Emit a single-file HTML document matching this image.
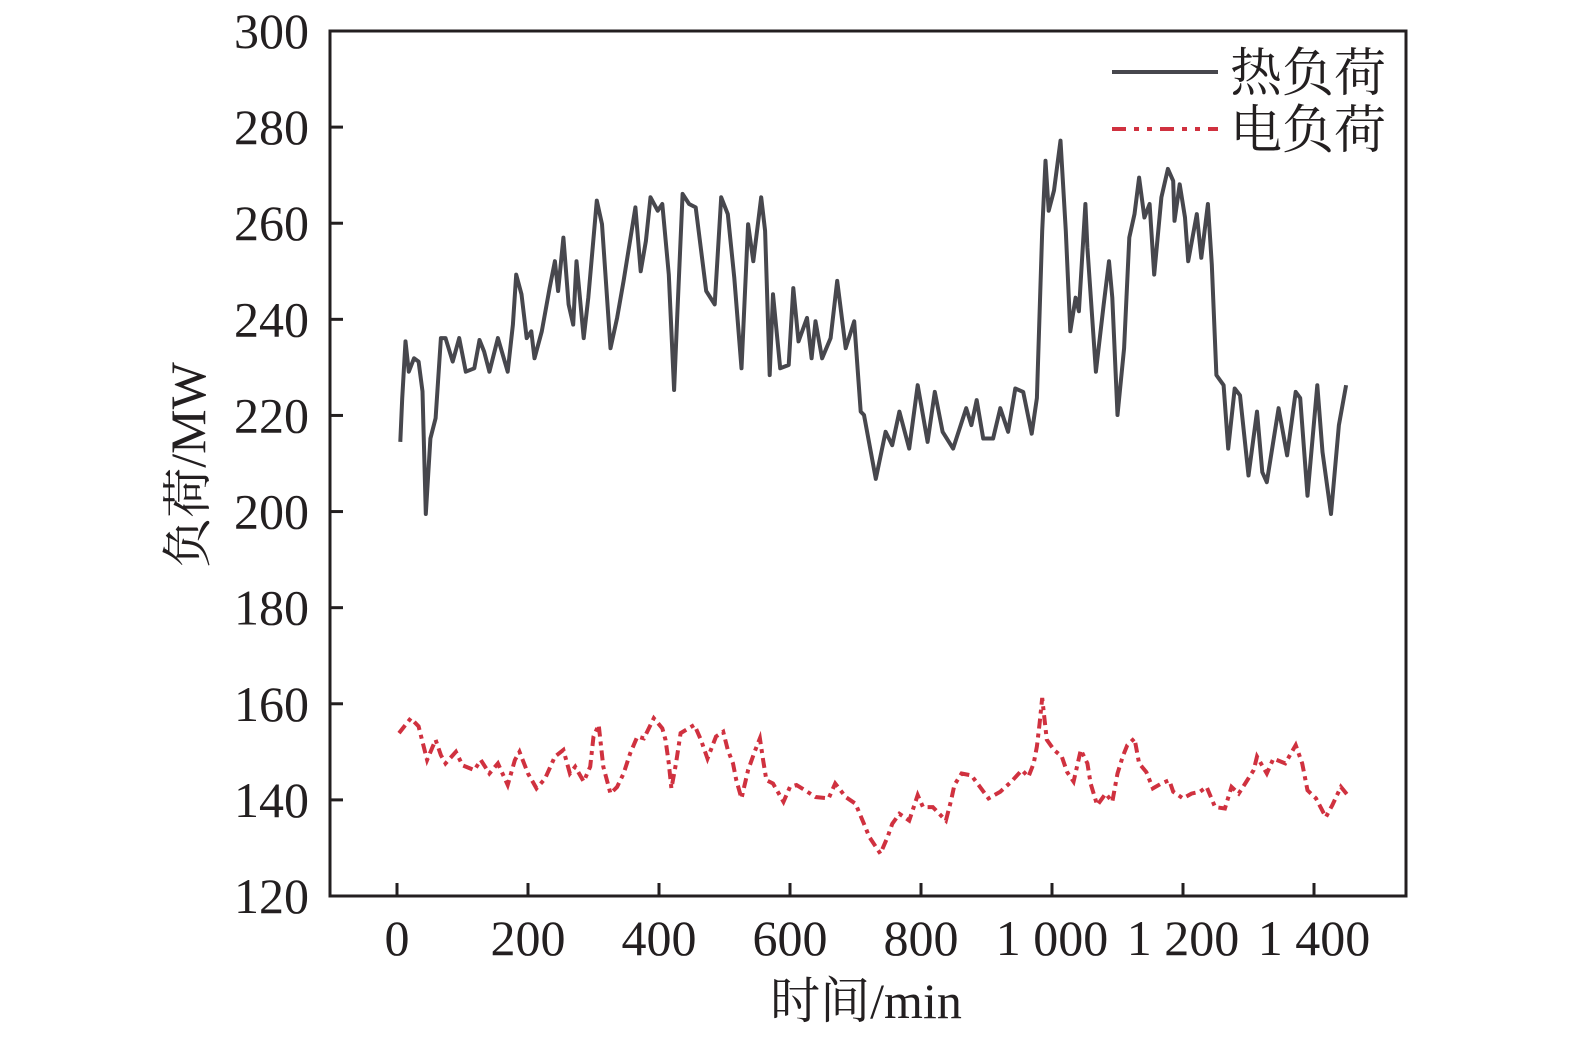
<!DOCTYPE html>
<html><head><meta charset="utf-8"><style>
body{margin:0;background:#fff}
svg text{font-family:"Liberation Serif","Noto Serif CJK SC",serif;fill:#231f20}
</style></head><body>
<svg width="1575" height="1043" viewBox="0 0 1575 1043" xmlns="http://www.w3.org/2000/svg">
<g id="plot"></g>
</svg>
<script>
const heatT=[5,8,13,18,26,33,39,44,51,59,67,74,85,95,105,118,126,133,141,154,169,177,182,190,198,205,210,221,233,241,246,254,262,269,274,285,292,305,313,326,336,346,364,372,380,387,398,405,415,423,428,436,446,456,472,485,495,505,515,526,536,544,556,562,569,574,585,598,605,613,626,633,639,649,662,672,685,698,708,713,731,746,756,767,782,795,810,821,833,849,869,877,885,895,910,921,933,944,956,969,977,985,990,995,1003,1013,1021,1028,1036,1041,1051,1054,1067,1079,1087,1092,1100,1110,1118,1126,1133,1141,1149,1156,1167,1177,1185,1187,1195,1203,1208,1221,1228,1238,1244,1251,1262,1269,1279,1287,1300,1313,1321,1328,1346,1359,1372,1379,1390,1405,1413,1426,1438,1449];
const heatV=[214.5,223.5,235.4,229.1,231.9,231.2,225,199.5,215.2,219.4,236.1,236.1,231.2,236.1,229.1,229.8,235.7,233.3,229.1,236.1,229.1,238.9,249.3,245.2,236.1,237.5,231.9,237.5,246.5,252.1,245.9,257,243.1,238.9,252.1,236.1,244.5,264.7,259.8,234,240.3,248,263.3,250,256.3,265.4,262.6,264,249.3,225.3,241,266.1,264,263.3,245.9,243.1,265.4,261.9,248.6,229.8,259.8,252.1,265.4,258.4,228.4,245.2,229.8,230.5,246.5,235.4,240.3,231.9,239.6,231.9,236.1,248,234,239.6,220.8,220.1,206.8,216.6,213.8,220.8,213.1,226.3,214.5,224.9,216.6,213.1,221.5,218,223.2,215.2,215.2,221.5,216.6,225.6,224.9,216.2,223.6,258.4,273,262.6,266.8,277.2,258.4,237.5,244.5,241.7,264,254.9,229.1,243.1,252.1,244.5,220.1,234,257,261.9,269.5,261.2,264,249.3,265.4,271.3,268.8,260.5,268.1,261.2,252.1,261.9,252.8,264,251.4,228.4,226.3,213.1,225.6,224.2,207.5,220.8,208.2,206.1,221.5,211.7,224.9,223.6,203.3,226.3,212.4,199.5,218,226.3,224.9];
const elecT=[3,21,33,46,59,67,74,90,100,118,128,141,154,169,180,187,200,213,226,241,254,264,272,285,295,300,308,315,326,336,346,356,367,377,392,405,410,415,419,426,433,454,464,474,487,498,505,513,518,526,536,546,554,559,564,574,590,600,610,623,639,659,669,685,700,713,721,738,749,756,767,782,795,803,818,838,846,851,862,877,890,903,921,938,954,964,972,977,981,985,987,992,1003,1015,1023,1033,1044,1054,1059,1069,1082,1092,1100,1108,1115,1126,1133,1144,1154,1167,1179,1185,1200,1213,1226,1236,1249,1264,1274,1285,1295,1308,1313,1328,1338,1356,1372,1382,1390,1403,1418,1428,1441,1450];
const elecV=[153.9,157,155.3,148.3,152.5,149.3,147.6,150,147.2,146.2,148.3,145.5,147.6,143.1,148.3,150,145.5,142.4,144.4,149,150.4,145.5,146.9,143.8,146.9,153.2,155.6,146.9,141.3,142.7,145.5,149.7,153.2,152.8,157,154.9,152.5,147.6,142.4,147.6,153.9,155.6,152.5,148.6,153.2,154.2,150.4,147.6,144.1,140.3,146.2,150,152.8,148.3,144.1,143.4,139.6,142.7,143.1,142,140.6,140.3,143.4,140.6,139.2,135,132.3,128.8,132.3,135,137.1,135.7,141,138.5,138.5,135.7,139.9,143.1,145.5,145.1,142.7,140.3,141.7,143.8,146.2,144.8,147.6,151.1,155.9,161.2,158.7,152.5,150.4,149,145.8,143.8,150.4,147.6,143.4,138.9,141.3,139.6,145.5,149,151.4,152.8,147.6,145.8,142.4,143.4,144.1,141.7,140.3,141.3,141.7,142.7,138.5,138.2,142.7,141.3,143.4,146.2,149,145.5,148.6,147.6,151.4,147.6,142,140.3,136.4,138.9,142.7,141.2];
const yTicks=[120,140,160,180,200,220,240,260,280,300];
const xTicks=[0,200,400,600,800,1000,1200,1400];
const xTickLabels=["0","200","400","600","800","1 000","1 200","1 400"];

const NS="http://www.w3.org/2000/svg";
const L=330,R=1406,T=31,B=896;
const X0=397,XS=131/200;
function sx(t){return X0+t*XS;}
function sy(v){return B-(v-120)*(B-T)/180;}
const g=document.getElementById('plot');
function mk(tag,attrs){const e=document.createElementNS(NS,tag);for(const k in attrs)e.setAttribute(k,attrs[k]);g.appendChild(e);return e;}

yTicks.forEach((v,i)=>{
  const tk=mk('line',{x1:L,x2:L+13,y1:sy(v),y2:sy(v),stroke:'#231f20','stroke-width':3});
  
  
  const tx=mk('text',{x:309,y:sy(v)+17,'text-anchor':'end','font-size':50});
  tx.textContent=v;
  
  
});
xTicks.forEach((t,i)=>{
  const tk=mk('line',{x1:sx(t),x2:sx(t),y1:B,y2:B-13,stroke:'#231f20','stroke-width':3});
  
  
  const tx=mk('text',{x:sx(t),y:955,'text-anchor':'middle','font-size':50});
  tx.textContent=xTickLabels[i];
  
  
});

const hp=mk('polyline',{points:heatT.map((t,i)=>sx(t).toFixed(1)+','+sy(heatV[i]).toFixed(1)).join(' '),fill:'none',stroke:'#47474d','stroke-width':4,'stroke-linejoin':'round'});


const ep=mk('polyline',{points:elecT.map((t,i)=>sx(t).toFixed(1)+','+sy(elecV[i]).toFixed(1)).join(' '),fill:'none',stroke:'#d0313f','stroke-width':4,'stroke-dasharray':'10 5 4 5'});



const fr=mk('rect',{x:L,y:T,width:R-L,height:B-T,fill:'none',stroke:'#231f20','stroke-width':3});


</script>
<svg style="position:absolute;left:0;top:0" width="1575" height="1043" xmlns="http://www.w3.org/2000/svg">
<g>
<line x1="1112" y1="72" x2="1218" y2="72" stroke="#47474d" stroke-width="4"/>
<text x="1230" y="91" font-size="52" style="font-family:'Liberation Serif','Noto Serif CJK SC',serif" fill="#231f20">热负荷</text>
<line x1="1112" y1="129" x2="1218" y2="129" stroke="#d0313f" stroke-width="4" stroke-dasharray="14 8 5 8 5 8"/>
<text x="1230" y="148" font-size="52" style="font-family:'Liberation Serif','Noto Serif CJK SC',serif" fill="#231f20">电负荷</text>
</g>
<text x="866" y="1018" text-anchor="middle" font-size="50" style="font-family:'Liberation Serif','Noto Serif CJK SC',serif" fill="#231f20">时间/min</text>
<text transform="translate(205,465) rotate(-90)" text-anchor="middle" font-size="50" style="font-family:'Liberation Serif','Noto Serif CJK SC',serif" fill="#231f20">负荷/MW</text>
</svg>
</body></html>
